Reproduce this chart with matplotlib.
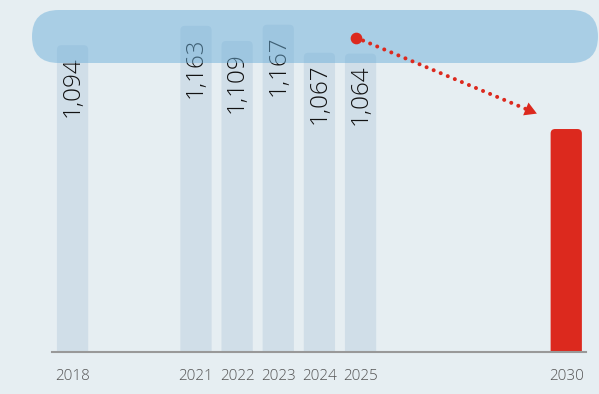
import numpy as np
import matplotlib
matplotlib.use("Agg")
import matplotlib.pyplot as plt
from matplotlib.patches import FancyBboxPatch
import matplotlib.transforms as mtransforms

# ---- data ----
years = [2018, 2021, 2022, 2023, 2024, 2025, 2030]
values = [1094, 1163, 1109, 1167, 1067, 1064, 795]
value_labels = ["1,094", "1,163", "1,109", "1,167", "1,067", "1,064", ""]
tick_labels = ["2018", "2021", "2022", "2023", "2024", "2025", "2030"]
bar_colors = ["#d0dee8"] * 6 + ["#dc291e"]
# trend arrow (from 2025 toward 2030 target)
arrow_start = (2024.89, 1121)
arrow_end = (2029.27, 851)

BG = "#e6eef2"
RED = "#dc291e"
FONT = ["Open Sans", "DejaVu Sans"]

W, H, DPI = 599, 394, 100
fig = plt.figure(figsize=(W / DPI, H / DPI), dpi=DPI, facecolor=BG)
# axes: x from px 52 to 586, y baseline at px 352 to top 0
ax = fig.add_axes([52 / W, (H - 352) / H, (586 - 52) / W, 352 / H])
ax.set_facecolor(BG)
ax.set_xlim(2017.50, 2030.48)
ax.set_ylim(0, 1255)

bars = ax.bar(years, values, width=0.76, color=bar_colors, zorder=2)
xpx = (586 - 52) / (2030.48 - 2017.50)
ypx = 352 / 1255
r_px = 4.5
for rect, c in zip(bars, bar_colors):
    x, y = rect.get_x(), rect.get_y()
    w, h = rect.get_width(), rect.get_height()
    rect.remove()
    p = FancyBboxPatch((x, y - 40), w, h + 40,
                       boxstyle=f"round,pad=0,rounding_size={r_px / xpx}",
                       mutation_aspect=(1 / ypx) / (1 / xpx),
                       facecolor=c, edgecolor="none", zorder=2)
    ax.add_patch(p)

for yr, v, lab in zip(years, values, value_labels):
    if lab:
        ax.annotate(lab, (yr, v), xytext=(0, -8), textcoords="offset points",
                    rotation=90, ha="center", va="top", fontsize=17.5,
                    fontweight="light", family=FONT, color="#111111", zorder=2.5)

# background band
band = FancyBboxPatch((0.32, (H - 63) / DPI), 5.66, 0.53,
                      boxstyle="round,pad=0,rounding_size=0.265",
                      transform=fig.dpi_scale_trans, facecolor="#6eb0da",
                      alpha=0.5, edgecolor="none", clip_on=False, zorder=3)
ax.add_patch(band)

# dotted trend line + dot + head
ax.plot([arrow_start[0], arrow_end[0]], [arrow_start[1], arrow_end[1]],
        color=RED, lw=2.9, linestyle=(0, (0.01, 1.89)),
        solid_capstyle="round", dash_capstyle="round", zorder=4, clip_on=False)
ax.plot([arrow_start[0]], [arrow_start[1]], "o", ms=7.4, color=RED, zorder=5,
        clip_on=False)
p0 = ax.transData.transform(arrow_start)
p1 = ax.transData.transform(arrow_end)
d = (p1 - p0) / np.linalg.norm(p1 - p0)
ang = np.degrees(np.arctan2(d[1], d[0]))
R = 8.0
c = ax.transData.inverted().transform(p1 - R * d)
ax.plot([c[0]], [c[1]], marker=(3, 0, ang - 90), ms=2 * R * 0.72, color=RED,
        mec="none", zorder=5, clip_on=False)

ax.set_xticks(years)
ax.set_xticklabels(tick_labels, fontsize=11, family=FONT, fontweight="light",
                   color="#555555")
offset = mtransforms.ScaledTranslation(-3.5 / DPI, 0, fig.dpi_scale_trans)
for t in ax.get_xticklabels():
    t.set_transform(t.get_transform() + offset)
ax.tick_params(axis="x", length=0, pad=12)
ax.set_yticks([])
for s in ["top", "left", "right"]:
    ax.spines[s].set_visible(False)
ax.spines["bottom"].set_color("#999999")
ax.spines["bottom"].set_linewidth(1.5)
ax.spines["bottom"].set_zorder(6)

fig.savefig("out.png", dpi=DPI, facecolor=BG)
